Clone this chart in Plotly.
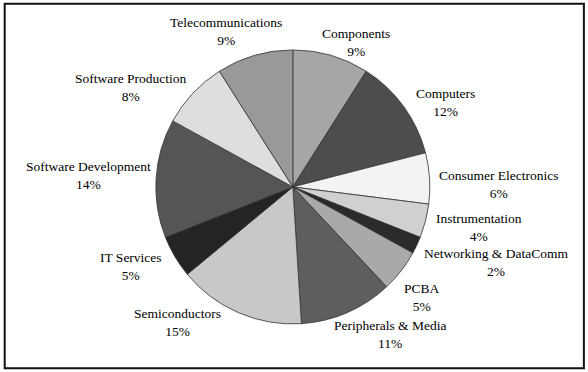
import math
import plotly.graph_objects as go

labels = ["Components", "Computers", "Consumer Electronics", "Instrumentation",
          "Networking & DataComm", "PCBA", "Peripherals & Media", "Semiconductors",
          "IT Services", "Software Development", "Software Production", "Telecommunications"]
values = [9, 12, 6, 4, 2, 5, 11, 15, 5, 14, 8, 9]
colors = ["#a6a6a6", "#4d4d4d", "#f3f3f3", "#d0d0d0", "#2b2b2b", "#a9a9a9",
          "#5e5e5e", "#c8c8c8", "#242424", "#555555", "#dedede", "#999999"]

W, H = 588, 372
dom_x = [0.265, 0.731]
dom_y = [0.129, 0.866]
cx = (dom_x[0] + dom_x[1]) / 2 * W
cy = (1 - (dom_y[0] + dom_y[1]) / 2) * H
R = min((dom_x[1] - dom_x[0]) * W, (dom_y[1] - dom_y[0]) * H) / 2
GAP = 6

# per-label pixel nudges for label placement (layout only)
nudges = {
    "Components": (23, 10), "Computers": (6, 0), "Consumer Electronics": (2, 7),
    "Instrumentation": (4, 5), "Networking & DataComm": (1, 15), "PCBA": (-3, 23),
    "Peripherals & Media": (-17, -1), "Semiconductors": (-14, -13), "IT Services": (-7, 7),
    "Software Development": (2, -2), "Software Production": (-1, -2), "Telecommunications": (-27, -1),
}

fig = go.Figure(go.Pie(
    labels=labels, values=values, sort=False, direction="clockwise", rotation=0,
    marker=dict(colors=colors, line=dict(color="#333333", width=0.8)),
    textinfo="none", showlegend=False, hoverinfo="label+percent",
    domain=dict(x=dom_x, y=dom_y),
))

total = sum(values)
cum = 0
annotations = []
for lab, v in zip(labels, values):
    mid = (cum + v / 2) / total * 2 * math.pi
    cum += v
    s, c = math.sin(mid), math.cos(mid)
    px = cx + (R + GAP) * s
    py = cy - (R + GAP) * c
    xa = "left" if s > 0.35 else ("right" if s < -0.35 else "center")
    ya = "bottom" if c > 0.7 else ("top" if c < -0.7 else "middle")
    dx, dy = nudges[lab]
    px += dx
    py += dy
    annotations.append(dict(
        x=px / W, y=1 - py / H, xref="paper", yref="paper",
        xanchor=xa, yanchor=ya, align="center", showarrow=False,
        text=f"{lab}<br>{round(v / total * 100)}%",
        font=dict(family="Liberation Serif", size=13.5, color="#000000"),
        borderpad=0,
    ))

fig.update_layout(
    width=W, height=H, margin=dict(l=0, r=0, t=0, b=0),
    paper_bgcolor="white", plot_bgcolor="white",
    annotations=annotations,
    shapes=[dict(type="rect", xref="paper", yref="paper", x0=0.008, x1=0.993, y0=0.01, y1=0.99,
                 line=dict(color="#111111", width=2))],
)
fig.write_html("out.html")
